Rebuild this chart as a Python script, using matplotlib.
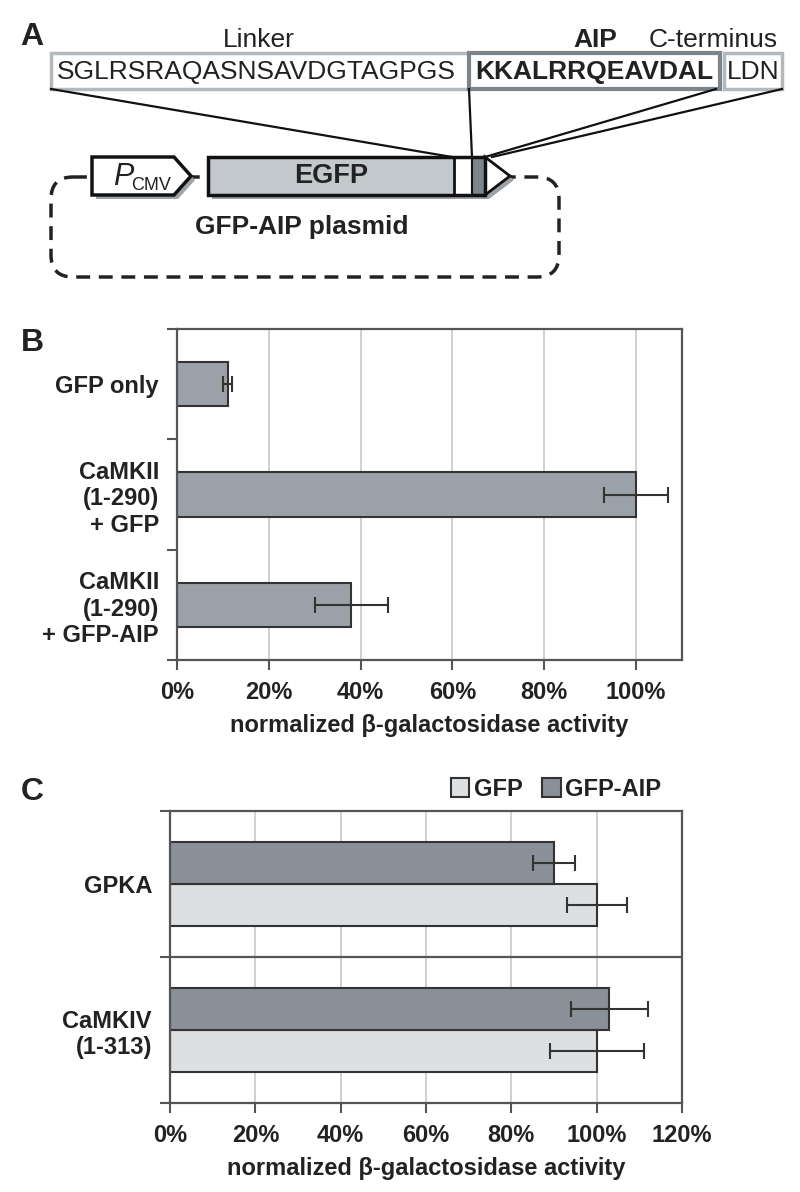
import numpy as np
import matplotlib
matplotlib.use('Agg')
import matplotlib.pyplot as plt
from matplotlib.patches import Rectangle, Polygon, FancyBboxPatch

plt.rcParams['font.family'] = ['Liberation Sans', 'DejaVu Sans']

# data, panel B
b_labels = ['GFP only', 'CaMKII\n(1-290)\n+ GFP', 'CaMKII\n(1-290)\n+ GFP-AIP']
b_values = [11, 100, 38]
b_errors = [1, 7, 8]
b_ticks = [0, 20, 40, 60, 80, 100]

# data, panel C
c_labels = ['GPKA', 'CaMKIV\n(1-313)']
c_gfp = [100, 100]
c_gfp_err = [7, 11]
c_aip = [90, 103]
c_aip_err = [5, 9]
c_ticks = [0, 20, 40, 60, 80, 100, 120]

xlabel = 'normalized \u03b2-galactosidase activity'
TXT = '#222222'
SPINE = '#555555'
W, H = 800, 1192

fig = plt.figure(figsize=(8, 11.92), dpi=100)


def px_axes(x0, y0, x1, y1):
    # axes rect from pixel box (top-left origin)
    return fig.add_axes([x0 / W, 1 - y1 / H, (x1 - x0) / W, (y1 - y0) / H])


# ---------------- panel A (diagram) ----------------
axa = fig.add_axes([0, 1 - 300 / H, 1, 300 / H])
axa.set_xlim(0, 800)
axa.set_ylim(300, 0)
axa.axis('off')

# sequence boxes
axa.add_patch(Rectangle((51, 53), 418, 36, fc='white', ec='#b4b9be', lw=2.5))
axa.add_patch(Rectangle((724, 53), 58, 36, fc='white', ec='#b4b9be', lw=2.5))
axa.add_patch(Rectangle((469, 53), 251, 36, fc='white', ec='#7d858c', lw=3))
axa.text(259, 40, 'Linker', ha='center', va='center', fontsize=19, color=TXT)
axa.text(595, 40, 'AIP', ha='center', va='center', fontsize=19, color=TXT, weight='bold')
axa.text(713, 40, 'C-terminus', ha='center', va='center', fontsize=19, color=TXT)
axa.text(256, 72, 'SGLRSRAQASNSAVDGTAGPGS', ha='center', va='center', fontsize=19, color=TXT)
axa.text(594, 72, 'KKALRRQEAVDAL', ha='center', va='center', fontsize=19, color=TXT, weight='bold')
axa.text(753, 72, 'LDN', ha='center', va='center', fontsize=19, color=TXT)

# connecting lines
for (xa, ya), (xb, yb) in [((51, 89), (452, 157)), ((469, 89), (472, 157)),
                           ((716, 89), (485, 157)), ((782, 89), (492, 157))]:
    axa.plot([xa, xb], [ya, yb], color='#111111', lw=1.6, zorder=2)

# plasmid outline
axa.add_patch(FancyBboxPatch((51, 177), 508, 100, boxstyle='round,pad=0,rounding_size=22',
                             fc='none', ec='#222222', lw=2.5, ls=(0, (4, 2.5)), zorder=1))

# construct with shadow
sh = 4
pent = [(92, 157), (174, 157), (191, 176), (174, 195), (92, 195)]
tip = [(485, 157), (510, 176), (485, 195)]
for pts in (pent, tip):
    axa.add_patch(Polygon([(x + sh, y + sh) for x, y in pts], fc='#9da2a7', ec='none', zorder=3))
axa.add_patch(Rectangle((208 + sh, 157 + sh), 277, 38, fc='#9da2a7', ec='none', zorder=3))
axa.add_patch(Polygon(pent, fc='white', ec='#111111', lw=2.5, zorder=4))
axa.add_patch(Polygon(tip, fc='white', ec='#111111', lw=2, zorder=4))
axa.add_patch(Rectangle((208, 157), 246, 38, fc='#c3c8cd', ec='none', zorder=4))
axa.add_patch(Rectangle((454, 157), 18, 38, fc='white', ec='none', zorder=4))
axa.add_patch(Rectangle((472, 157), 13, 38, fc='#7d858c', ec='none', zorder=4))
axa.add_patch(Rectangle((208, 157), 277, 38, fc='none', ec='#111111', lw=2.5, zorder=5))
axa.plot([454, 454], [157, 195], color='#111111', lw=2, zorder=5)
axa.plot([472, 472], [157, 195], color='#111111', lw=1.5, zorder=5)

axa.text(113, 177, 'P', ha='left', va='center', fontsize=22, style='italic', color=TXT, zorder=6)
axa.text(131, 186, 'CMV', ha='left', va='center', fontsize=13, color=TXT, zorder=6)
axa.text(331, 176, 'EGFP', ha='center', va='center', fontsize=19.5, weight='bold', color=TXT, zorder=6)
axa.text(302, 227, 'GFP-AIP plasmid', ha='center', va='center', fontsize=19, weight='bold', color=TXT)


def style_axes(ax):
    for s in ax.spines.values():
        s.set_color(SPINE)
        s.set_linewidth(1.6)
    ax.tick_params(axis='x', length=7, width=1.5, color=SPINE, pad=8,
                   labelsize=17, labelcolor=TXT)
    ax.tick_params(axis='y', which='major', length=0, pad=13, labelsize=17, labelcolor=TXT)
    ax.tick_params(axis='y', which='minor', length=7, width=1.5, color=SPINE)
    for t in ax.get_xticklabels() + ax.get_yticklabels():
        t.set_fontweight('bold')
    ax.xaxis.grid(True, color='#c8c8c8', lw=1.2)
    ax.set_axisbelow(True)
    ax.set_xlabel(xlabel, fontsize=17, fontweight='bold', color=TXT, labelpad=7)


ek = dict(ecolor='#333333', elinewidth=1.5, capsize=5.5, capthick=1.5)

# ---------------- panel B ----------------
axb = px_axes(177, 329, 682, 660)
yb = np.arange(len(b_labels))
axb.barh(yb, b_values, height=0.4, color='#9ba1a8', edgecolor='#333333', lw=1.5,
         xerr=b_errors, error_kw=ek)
axb.set_xlim(0, 110)
axb.set_ylim(len(b_labels) - 0.5, -0.5)
axb.set_xticks(b_ticks)
axb.set_xticklabels([f'{v}%' for v in b_ticks])
axb.set_yticks(yb)
axb.set_yticklabels(b_labels)
axb.set_yticks(np.arange(len(b_labels) + 1) - 0.5, minor=True)
style_axes(axb)

# ---------------- panel C ----------------
axc = px_axes(170, 811, 682, 1103)
yc = np.arange(len(c_labels))
h = 0.29
axc.barh(yc + h / 2, c_gfp, height=h, color='#dde0e3', edgecolor='#333333', lw=1.5,
         xerr=c_gfp_err, error_kw=ek, label='GFP')
axc.barh(yc - h / 2, c_aip, height=h, color='#8a9097', edgecolor='#333333', lw=1.5,
         xerr=c_aip_err, error_kw=ek, label='GFP-AIP')
for b in yc[:-1] + 0.5:
    axc.axhline(b, color=SPINE, lw=1.6)
axc.set_xlim(0, 120)
axc.set_ylim(len(c_labels) - 0.5, -0.5)
axc.set_xticks(c_ticks)
axc.set_xticklabels([f'{v}%' for v in c_ticks])
axc.set_yticks(yc)
axc.set_yticklabels(c_labels)
axc.set_yticks(np.arange(len(c_labels) + 1) - 0.5, minor=True)
style_axes(axc)
axc.legend(loc='center', bbox_to_anchor=(556 / W, 1 - 789 / H), bbox_transform=fig.transFigure,
           ncol=2, frameon=False, handlelength=0.8, handleheight=0.9, handletextpad=0.2,
           columnspacing=0.8, prop={'weight': 'bold', 'size': 17}, labelcolor=TXT)

# panel letters
for letter, (x, y) in zip('ABC', [(32, 37), (32, 343), (32, 792)]):
    fig.text(x / W, 1 - y / H, letter, ha='center', va='center', fontsize=23,
             weight='bold', color=TXT)

fig.savefig('out.png', dpi=100)
